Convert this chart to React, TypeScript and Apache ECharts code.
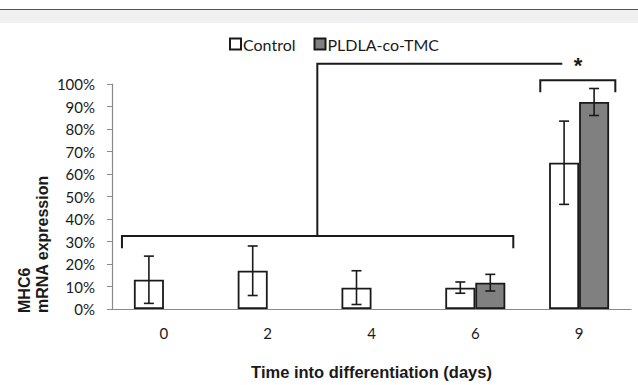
import React, { useEffect, useRef } from "react";
import * as echarts from "echarts";

const categories = ["0", "2", "4", "6", "9"];
const controlMean: (number | null)[] = [13, 17, 9.5, 9.5, 65];
const controlErr: (number | null)[] = [10.5, 11, 7.5, 2.5, 18.5];
const pldlaMean: (number | null)[] = [null, null, null, 11.7, 92];
const pldlaErr: (number | null)[] = [null, null, null, 3.7, 6];
const seriesNames = ["Control", "PLDLA-co-TMC"];

// significance brackets: [category position, value %]
const bracketLow = [[-0.404, 27], [-0.404, 32.5], [3.366, 32.5], [3.366, 27]];
const bracketStem = [[1.478, 32.5], [1.478, 109], [3.838, 109]];
const bracketHigh = [[3.626, 96.3], [3.626, 101.7], [4.349, 101.7], [4.349, 96.3]];
const starPos = [3.99, 109];

const BAR_W = 30;
const INK = "#1a1a1a";

function errData(mean: (number | null)[], err: (number | null)[]) {
  const out: number[][] = [];
  mean.forEach((m, i) => {
    const e = err[i];
    if (m != null && e != null) out.push([i, m - e, m + e]);
  });
  return out;
}

function errSeries(data: number[][], offset: number) {
  return {
    type: "custom",
    data,
    encode: { x: 0, y: [1, 2] },
    z: 5,
    silent: true,
    renderItem: (_p: any, api: any) => {
      const i = api.value(0);
      const top = api.coord([i, api.value(2)]);
      const bot = api.coord([i, api.value(1)]);
      const x = top[0] + offset;
      const style = { stroke: INK, lineWidth: 1.6 };
      return {
        type: "group",
        children: [
          { type: "line", shape: { x1: x, y1: top[1], x2: x, y2: bot[1] }, style },
          { type: "line", shape: { x1: x - 5, y1: top[1], x2: x + 5, y2: top[1] }, style },
          { type: "line", shape: { x1: x - 5, y1: bot[1], x2: x + 5, y2: bot[1] }, style },
        ],
      };
    },
  };
}

export default function App() {
  const ref = useRef<HTMLDivElement>(null);
  useEffect(() => {
    if (!ref.current) return;
    const chart = echarts.init(ref.current, null, { renderer: "svg" });
    chart.setOption({
      animation: false,
      backgroundColor: "#ffffff",
      graphic: [
        { type: "rect", shape: { x: 0, y: 10, width: 638, height: 13 }, style: { fill: "#f0f0f2" } },
        { type: "line", shape: { x1: 0, y1: 9.5, x2: 638, y2: 9.5 }, style: { stroke: "#555", lineWidth: 1.2 } },
        {
          type: "text",
          x: 15,
          y: 313,
          rotation: Math.PI / 2,
          style: {
            text: "MHC6\nmRNA expression",
            fontFamily: "Liberation Sans",
            fontWeight: "bold",
            fontSize: 16,
            lineHeight: 18,
            fill: INK,
            textAlign: "left",
            textVerticalAlign: "top",
          },
        },
      ],
      legend: {
        data: seriesNames,
        left: 224,
        top: 31,
        itemWidth: 11,
        itemHeight: 11,
        itemGap: 18,
        icon: "rect",
        textStyle: { fontFamily: "Lato", fontSize: 16, color: INK, padding: [0, 0, 0, -3] },
      },
      grid: { left: 112, right: 7, top: 84, bottom: 64 },
      xAxis: {
        type: "category",
        data: categories,
        name: "Time into differentiation (days)",
        nameLocation: "middle",
        nameGap: 54,
        nameTextStyle: { fontFamily: "Liberation Sans", fontWeight: "bold", fontSize: 16.5, color: INK },
        axisLine: { lineStyle: { color: "#8a8a8a", width: 1.2 } },
        axisTick: { length: 5, lineStyle: { color: "#8a8a8a" } },
        axisLabel: { fontFamily: "Lato", fontSize: 15, color: INK, margin: 16 },
      },
      yAxis: {
        type: "value",
        min: 0,
        max: 100,
        interval: 10,
        splitLine: { show: false },
        axisLine: { show: true, lineStyle: { color: "#8a8a8a", width: 1.2 } },
        axisTick: { show: true, length: 5, lineStyle: { color: "#8a8a8a" } },
        axisLabel: { formatter: "{value}%", fontFamily: "Lato", fontSize: 15, color: INK, margin: 17 },
      },
      series: [
        {
          name: seriesNames[0],
          type: "bar",
          data: controlMean.map((v) => (v == null ? "-" : v)),
          barWidth: BAR_W,
          barGap: "0%",
          itemStyle: { color: "#ffffff", borderColor: INK, borderWidth: 1.8 },
        },
        {
          name: seriesNames[1],
          type: "bar",
          data: pldlaMean.map((v) => (v == null ? "-" : v)),
          barWidth: BAR_W,
          barGap: "0%",
          itemStyle: { color: "#808080", borderColor: INK, borderWidth: 1.8 },
        },
        errSeries(errData(controlMean, controlErr), -BAR_W / 2),
        errSeries(errData(pldlaMean, pldlaErr), BAR_W / 2),
        {
          type: "custom",
          data: [[0, 0]],
          encode: { x: 0, y: 1 },
          z: 6,
          silent: true,
          clip: false,
          renderItem: (_p: any, api: any) => {
            const x0 = api.coord([0, 0])[0];
            const band = api.size([1, 0])[0];
            const px = (pt: number[]) => [x0 + pt[0] * band, api.coord([0, pt[1]])[1]];
            const style = { stroke: INK, lineWidth: 2, fill: null };
            const s = px(starPos);
            return {
              type: "group",
              children: [
                { type: "polyline", shape: { points: bracketLow.map(px) }, style },
                { type: "polyline", shape: { points: bracketStem.map(px) }, style },
                { type: "polyline", shape: { points: bracketHigh.map(px) }, style },
                {
                  type: "text",
                  x: s[0],
                  y: s[1] + 2,
                  style: {
                    text: "*",
                    fontFamily: "Liberation Sans",
                    fontWeight: "bold",
                    fontSize: 22,
                    fill: INK,
                    textAlign: "center",
                    textVerticalAlign: "middle",
                  },
                },
              ],
            };
          },
        },
      ],
    });
    return () => chart.dispose();
  }, []);
  return (
    <div
      ref={ref}
      style={{ position: "absolute", left: 0, top: 0, width: 638, height: 385, background: "#fff" }}
    />
  );
}
